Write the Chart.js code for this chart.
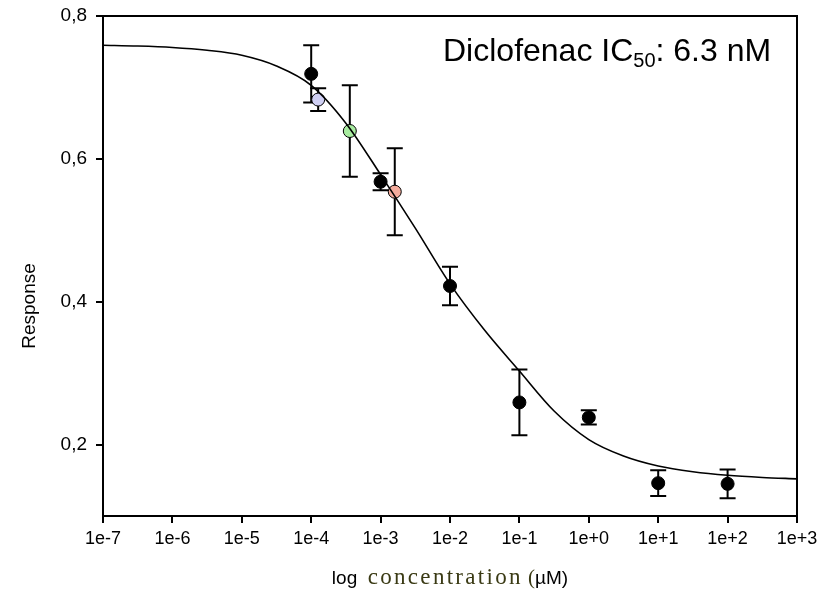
<!DOCTYPE html>
<html>
<head>
<meta charset="utf-8">
<script src="https://cdn.jsdelivr.net/npm/chart.js@4/dist/chart.umd.min.js"></script>
<style>
  html, body { margin: 0; padding: 0; background: #fff; }
  #wrap { width: 834px; height: 598px; position: relative; }
</style>
</head>
<body>
<div id="wrap"><canvas id="c" width="834" height="598"></canvas></div>
<script>
// ---- data ----
const xTickValues = [1e-7, 1e-6, 1e-5, 1e-4, 1e-3, 1e-2, 1e-1, 1e0, 1e1, 1e2, 1e3];
const xTickLabels = ["1e-7", "1e-6", "1e-5", "1e-4", "1e-3", "1e-2", "1e-1", "1e+0", "1e+1", "1e+2", "1e+3"];
const yTickValues = [0.2, 0.4, 0.6, 0.8];
const yTickLabels = ["0,2", "0,4", "0,6", "0,8"];

// measured points (concentration in µM)
const pointConc   = [1e-4, 1.26e-4, 3.6e-4, 1e-3, 1.6e-3, 1e-2, 1e-1, 1e0, 1e1, 1e2];
const pointResp   = [0.719, 0.683, 0.639, 0.568, 0.554, 0.422, 0.259, 0.238, 0.146, 0.145];
const pointErr    = [0.040, 0.016, 0.064, 0.012, 0.061, 0.027, 0.046, 0.010, 0.018, 0.020];
const pointColors = ["#000000", "#d0d0f4", "#a8eca0", "#000000", "#f4ab9c", "#000000", "#000000", "#000000", "#000000", "#000000"];

// fitted curve
const curveConc = [1e-7, 3.16e-7, 1e-6, 3.16e-6, 1e-5, 3.16e-5, 1e-4, 3.16e-4, 1e-3, 3.16e-3, 1e-2,
                   3.16e-2, 1e-1, 3.16e-1, 1e0, 3.16e0, 1e1, 3.16e1, 1e2, 3.16e2, 1e3];
const curveResp = [0.759, 0.758, 0.756, 0.752, 0.745, 0.730, 0.703, 0.650, 0.578, 0.503, 0.425,
                   0.360, 0.303, 0.247, 0.207, 0.184, 0.170, 0.162, 0.157, 0.154, 0.152];

const SANS = "'Liberation Sans', Arial, sans-serif";
const SERIF = "'Liberation Serif', 'Times New Roman', serif";

const errorBars = {
  id: 'errorBars',
  beforeDatasetsDraw(chart) {
    const {ctx, scales: {x, y}} = chart;
    ctx.save();
    ctx.strokeStyle = '#000';
    ctx.lineWidth = 2;
    for (let i = 0; i < pointConc.length; i++) {
      const px = x.getPixelForValue(pointConc[i]);
      const yt = y.getPixelForValue(pointResp[i] + pointErr[i]);
      const yb = y.getPixelForValue(pointResp[i] - pointErr[i]);
      ctx.beginPath();
      ctx.moveTo(px, yt); ctx.lineTo(px, yb);
      ctx.moveTo(px - 8, yt); ctx.lineTo(px + 8, yt);
      ctx.moveTo(px - 8, yb); ctx.lineTo(px + 8, yb);
      ctx.stroke();
    }
    ctx.restore();
  }
};

const decorations = {
  id: 'decorations',
  afterDraw(chart) {
    const {ctx, chartArea: a} = chart;
    ctx.save();
    // top and right frame
    ctx.strokeStyle = '#000';
    ctx.lineWidth = 2;
    ctx.beginPath();
    ctx.moveTo(a.left, a.top); ctx.lineTo(a.right, a.top); ctx.lineTo(a.right, a.bottom);
    ctx.stroke();

    ctx.fillStyle = '#000';
    ctx.textBaseline = 'alphabetic';
    // annotation title with subscript
    let tx = 443, ty = 61;
    ctx.font = `32px ${SANS}`;
    const t1 = 'Diclofenac IC';
    ctx.fillText(t1, tx, ty); tx += ctx.measureText(t1).width;
    ctx.font = `20px ${SANS}`;
    ctx.fillText('50', tx, ty + 6); tx += ctx.measureText('50').width;
    ctx.font = `32px ${SANS}`;
    ctx.fillText(': 6.3 nM', tx, ty);

    // y axis title
    ctx.save();
    ctx.translate(35, 306);
    ctx.rotate(-Math.PI / 2);
    ctx.font = `19px ${SANS}`;
    ctx.textAlign = 'center';
    ctx.fillText('Response', 0, 0);
    ctx.restore();

    // x axis title, mixed fonts
    const parts = [
      {t: 'log  ', f: `19px ${SANS}`, c: '#000', ls: '0px'},
      {t: 'concentration', f: `23px ${SERIF}`, c: '#3a3a14', ls: '2.3px'},
      {t: ' (', f: `21px ${SERIF}`, c: '#3a3a14', ls: '0px'},
      {t: 'µM)', f: `19px ${SANS}`, c: '#000', ls: '0px'}
    ];
    let total = 0;
    parts.forEach(p => { ctx.font = p.f; ctx.letterSpacing = p.ls; p.w = ctx.measureText(p.t).width; total += p.w; });
    let lx = 450 - total / 2;
    parts.forEach(p => { ctx.font = p.f; ctx.letterSpacing = p.ls; ctx.fillStyle = p.c; ctx.fillText(p.t, lx, 584); lx += p.w; });
    ctx.letterSpacing = '0px';
    ctx.restore();
  }
};

new Chart(document.getElementById('c'), {
  type: 'scatter',
  data: {
    datasets: [
      {
        type: 'line',
        data: curveConc.map((c, i) => ({x: c, y: curveResp[i]})),
        borderColor: '#000',
        borderWidth: 1.6,
        pointRadius: 0,
        fill: false,
        cubicInterpolationMode: 'monotone',
        order: 0
      },
      {
        data: pointConc.map((c, i) => ({x: c, y: pointResp[i]})),
        pointRadius: 6.5,
        pointBackgroundColor: pointColors,
        pointBorderColor: '#000',
        pointBorderWidth: 1,
        order: 1
      }
    ]
  },
  options: {
    responsive: false,
    animation: false,
    devicePixelRatio: 1,
    plugins: { legend: {display: false}, tooltip: {enabled: false} },
    layout: { padding: {left: 0, right: 37, top: 16, bottom: 0} },
    scales: {
      x: {
        type: 'logarithmic',
        min: 1e-7, max: 1e3,
        afterBuildTicks(axis) { axis.ticks = xTickValues.map(v => ({value: v})); },
        afterFit(s) { s.height = 82; s.paddingLeft = 0; s.paddingRight = 0; },
        ticks: {
          callback: (v, i) => xTickLabels[i],
          color: '#000',
          font: {family: SANS, size: 18},
          padding: 5,
          maxRotation: 0,
          autoSkip: false
        },
        grid: {display: true, drawOnChartArea: false, drawTicks: true, tickLength: 7, color: '#000', lineWidth: 2},
        border: {display: true, color: '#000', width: 2}
      },
      y: {
        min: 0.1, max: 0.8,
        afterBuildTicks(axis) { axis.ticks = yTickValues.map(v => ({value: v})); },
        afterFit(s) { s.width = 103; s.paddingTop = 0; s.paddingBottom = 0; },
        ticks: {
          callback: (v, i) => yTickLabels[i],
          color: '#000',
          font: {family: SANS, size: 19},
          padding: 9
        },
        grid: {display: true, drawOnChartArea: false, drawTicks: true, tickLength: 7, color: '#000', lineWidth: 2},
        border: {display: true, color: '#000', width: 2}
      }
    }
  },
  plugins: [errorBars, decorations]
});
</script>
</body>
</html>
